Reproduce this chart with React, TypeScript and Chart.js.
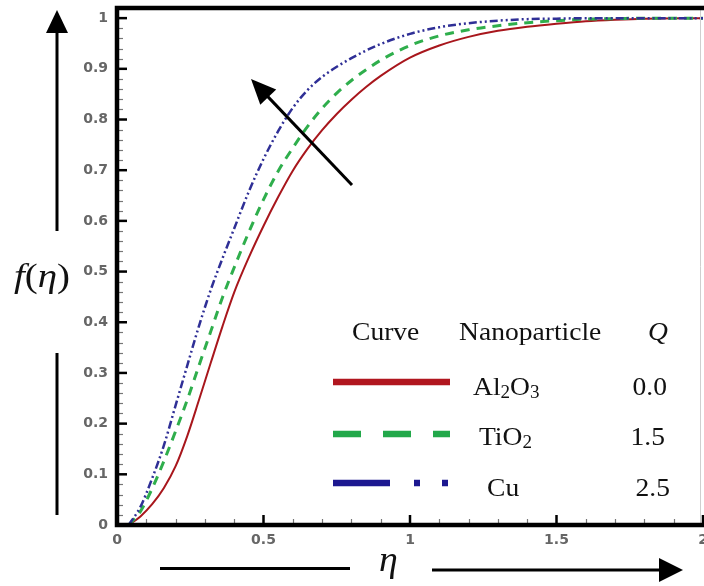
import React, { useEffect, useRef } from 'react';
import { Chart, registerables } from 'chart.js';

Chart.register(...registerables);

// ---- data ----
const eta = [0.04, 0.08, 0.12, 0.16, 0.2, 0.24, 0.28, 0.32, 0.36, 0.4, 0.45, 0.5, 0.55, 0.6, 0.65, 0.7, 0.75, 0.8, 0.85, 0.9, 1.0, 1.1, 1.2, 1.3, 1.4, 1.5, 1.6, 1.7, 1.8, 2.0];
const fAl2O3 = [0, 0.017, 0.041, 0.073, 0.116, 0.176, 0.247, 0.32, 0.392, 0.459, 0.528, 0.59, 0.647, 0.699, 0.742, 0.779, 0.811, 0.839, 0.864, 0.886, 0.922, 0.946, 0.963, 0.975, 0.983, 0.989, 0.994, 0.997, 0.999, 1.0];
const fTiO2 = [0, 0.027, 0.072, 0.126, 0.185, 0.247, 0.315, 0.382, 0.449, 0.508, 0.578, 0.642, 0.698, 0.744, 0.786, 0.822, 0.852, 0.877, 0.898, 0.917, 0.946, 0.965, 0.977, 0.985, 0.991, 0.995, 0.998, 0.999, 1.0, 1.0];
const fCu = [0, 0.036, 0.092, 0.157, 0.236, 0.315, 0.393, 0.464, 0.526, 0.585, 0.658, 0.722, 0.777, 0.823, 0.858, 0.884, 0.904, 0.921, 0.936, 0.949, 0.969, 0.982, 0.99, 0.995, 0.998, 0.999, 1.0, 1.0, 1.0, 1.0];

const xTicks = [0, 0.5, 1, 1.5, 2];
const xTickLabels = ['0', '0.5', '1', '1.5', '2'];
const yTicks = [0, 0.1, 0.2, 0.3, 0.4, 0.5, 0.6, 0.7, 0.8, 0.9, 1];
const yTickLabels = ['0', '0.1', '0.2', '0.3', '0.4', '0.5', '0.6', '0.7', '0.8', '0.9', '1'];

const legendHeader = ['Curve', 'Nanoparticle', 'Q'];
const legendNames = ['Al2O3', 'TiO2', 'Cu'];
const legendQ = ['0.0', '1.5', '2.5'];
const seriesColors = ['#b1161f', '#22a84a', '#1c1890'];
const yTitle = 'f(η)';
const xTitle = 'η';

const SERIF = "'Liberation Serif','Times New Roman',serif";
const TICK_FONT = { family: "'DejaVu Sans', sans-serif", size: 14, weight: 'bold' as const };

type Seg = { t: string; italic?: boolean; sub?: boolean };

function chemSegs(name: string): Seg[] {
  const out: Seg[] = [];
  for (const ch of name) {
    const sub = /[0-9]/.test(ch);
    const last = out[out.length - 1];
    if (last && !!last.sub === sub) last.t += ch;
    else out.push({ t: ch, sub });
  }
  return out;
}

function drawSegs(ctx: CanvasRenderingContext2D, segs: Seg[], x: number, y: number, size: number, align: 'left' | 'right', sx = 1) {
  const fontFor = (s: Seg) => `${s.italic ? 'italic ' : ''}${s.sub ? Math.round(size * 0.7) : size}px ${SERIF}`;
  let total = 0;
  for (const s of segs) {
    ctx.font = fontFor(s);
    total += ctx.measureText(s.t).width;
  }
  ctx.save();
  ctx.translate(x, y);
  ctx.scale(sx, 1);
  ctx.textAlign = 'left';
  ctx.textBaseline = 'alphabetic';
  ctx.fillStyle = '#111';
  let cx = align === 'right' ? -total : 0;
  for (const s of segs) {
    ctx.font = fontFor(s);
    ctx.fillText(s.t, cx, s.sub ? size * 0.12 : 0);
    cx += ctx.measureText(s.t).width;
  }
  ctx.restore();
}

function arrow(ctx: CanvasRenderingContext2D, x0: number, y0: number, x1: number, y1: number, head: number, half: number, w: number) {
  const dx = x1 - x0, dy = y1 - y0;
  const len = Math.hypot(dx, dy);
  const ux = dx / len, uy = dy / len;
  const bx = x1 - ux * head, by = y1 - uy * head;
  ctx.lineWidth = w;
  ctx.beginPath();
  ctx.moveTo(x0, y0);
  ctx.lineTo(bx + ux * 2, by + uy * 2);
  ctx.stroke();
  ctx.beginPath();
  ctx.moveTo(x1, y1);
  ctx.lineTo(bx - uy * half, by + ux * half);
  ctx.lineTo(bx + uy * half, by - ux * half);
  ctx.closePath();
  ctx.fill();
}

const overlay = {
  id: 'overlay',
  afterDraw(chart: any) {
    const ctx: CanvasRenderingContext2D = chart.ctx;
    const xs = chart.scales.x;
    const ys = chart.scales.y;
    const { left, right, top, bottom } = chart.chartArea;
    ctx.save();
    ctx.lineCap = 'butt';

    // minor ticks
    ctx.strokeStyle = '#777';
    ctx.lineWidth = 1.2;
    for (let i = 1; i < 50; i++) {
      if (i % 5 === 0) continue;
      const py = Math.round(ys.getPixelForValue(i * 0.02)) + 0.5;
      ctx.beginPath();
      ctx.moveTo(left, py);
      ctx.lineTo(left + 6, py);
      ctx.stroke();
    }
    for (let i = 1; i < 20; i++) {
      if (i % 5 === 0) continue;
      const px = Math.round(xs.getPixelForValue(i * 0.1)) + 0.5;
      ctx.beginPath();
      ctx.moveTo(px, bottom);
      ctx.lineTo(px, bottom - 6);
      ctx.stroke();
    }
    // major ticks
    ctx.strokeStyle = '#000';
    ctx.lineWidth = 2.5;
    for (const v of yTicks) {
      const py = ys.getPixelForValue(v);
      ctx.beginPath();
      ctx.moveTo(left, py);
      ctx.lineTo(left + 10, py);
      ctx.stroke();
    }
    for (const v of xTicks) {
      const px = xs.getPixelForValue(v);
      ctx.beginPath();
      ctx.moveTo(px, bottom);
      ctx.lineTo(px, bottom - 10);
      ctx.stroke();
    }

    // frame
    ctx.strokeStyle = '#cfcfcf';
    ctx.lineWidth = 1;
    ctx.beginPath();
    ctx.moveTo(right - 2.5, top);
    ctx.lineTo(right - 2.5, bottom);
    ctx.stroke();
    ctx.strokeStyle = '#000';
    ctx.lineWidth = 4.5;
    ctx.beginPath();
    ctx.moveTo(chart.width, top);
    ctx.lineTo(left, top);
    ctx.lineTo(left, bottom);
    ctx.lineTo(chart.width, bottom);
    ctx.stroke();

    // legend table
    const size = 26;
    const sx = 1.06;
    drawSegs(ctx, [{ t: legendHeader[0] }], 352, 340, size, 'left', sx);
    drawSegs(ctx, [{ t: legendHeader[1] }], 459, 340, size, 'left', sx);
    drawSegs(ctx, [{ t: legendHeader[2], italic: true }], 668, 340, size, 'right', sx);
    const rowY = [382, 434, 483];
    const nameX = [473, 479, 487];
    const baseY = [395, 445, 496];
    const qRight = [667, 665, 670];
    const dashes = [[], [28, 22], [57, 24, 6, 22, 6, 200]];
    for (let i = 0; i < 3; i++) {
      ctx.strokeStyle = seriesColors[i];
      ctx.lineWidth = 6.5;
      ctx.setLineDash(dashes[i]);
      ctx.beginPath();
      ctx.moveTo(333, rowY[i]);
      ctx.lineTo(i === 2 ? 448 : 450, rowY[i]);
      ctx.stroke();
      ctx.setLineDash([]);
      drawSegs(ctx, chemSegs(legendNames[i]), nameX[i], baseY[i], size, 'left', sx);
      drawSegs(ctx, [{ t: legendQ[i] }], qRight[i], baseY[i], size, 'right', sx);
    }

    // axis titles
    drawSegs(ctx, [{ t: yTitle[0], italic: true }, { t: yTitle[1] }, { t: yTitle[2], italic: true }, { t: yTitle[3] }], 14, 287, 33, 'left', 1.18);
    drawSegs(ctx, [{ t: xTitle, italic: true }], 379, 571, 36, 'left', 1.05);

    // decorative arrows
    ctx.fillStyle = '#000';
    ctx.strokeStyle = '#000';
    arrow(ctx, 57, 231, 57, 10, 23, 11, 3);
    ctx.lineWidth = 3;
    ctx.beginPath();
    ctx.moveTo(57, 353);
    ctx.lineTo(57, 515);
    ctx.stroke();
    ctx.beginPath();
    ctx.moveTo(160, 568.5);
    ctx.lineTo(350, 568.5);
    ctx.stroke();
    arrow(ctx, 432, 570, 683, 570, 24, 12, 3);
    arrow(ctx, 352, 185, 251, 79, 25, 11, 3);

    ctx.restore();
  },
};

export default function App() {
  const ref = useRef<HTMLCanvasElement | null>(null);
  useEffect(() => {
    if (!ref.current) return;
    const mk = (vals: number[]) => eta.map((x, i) => ({ x, y: vals[i] }));
    const chart = new Chart(ref.current, {
      type: 'line',
      data: {
        datasets: [
          { label: legendNames[2], data: mk(fCu), borderColor: '#2f2f96', borderWidth: 2.5, borderDash: [8, 3, 2, 3, 2, 3], pointRadius: 0, cubicInterpolationMode: 'monotone', fill: false },
          { label: legendNames[1], data: mk(fTiO2), borderColor: '#2fae4c', borderWidth: 3, borderDash: [9, 7], pointRadius: 0, cubicInterpolationMode: 'monotone', fill: false },
          { label: legendNames[0], data: mk(fAl2O3), borderColor: '#a8161c', borderWidth: 2, pointRadius: 0, cubicInterpolationMode: 'monotone', fill: false },
        ],
      },
      options: {
        animation: false,
        responsive: false,
        layout: { padding: { top: 8, right: 1, left: 0, bottom: 0 } },
        plugins: { legend: { display: false }, tooltip: { enabled: false } },
        scales: {
          x: {
            type: 'linear',
            min: 0,
            max: 2,
            afterBuildTicks: (s: any) => { s.ticks = xTicks.map((v) => ({ value: v })); },
            afterFit: (s: any) => { s.height = 61; s.paddingLeft = 0; s.paddingRight = 0; },
            ticks: { callback: (_v: any, i: number) => xTickLabels[i], padding: 7, maxRotation: 0, autoSkip: false, font: TICK_FONT, color: '#666' },
            grid: { display: false, drawTicks: false },
            border: { display: false },
          },
          y: {
            type: 'linear',
            min: 0,
            max: 1.02,
            afterBuildTicks: (s: any) => { s.ticks = yTicks.map((v) => ({ value: v })); },
            afterFit: (s: any) => { s.width = 117; s.paddingTop = 0; s.paddingBottom = 0; },
            ticks: { callback: (_v: any, i: number) => yTickLabels[i], padding: 9, autoSkip: false, font: TICK_FONT, color: '#666' },
            grid: { display: false, drawTicks: false },
            border: { display: false },
          },
        },
      } as any,
      plugins: [overlay],
    });
    return () => chart.destroy();
  }, []);
  return (
    <div style={{ position: 'fixed', left: 0, top: 0, width: 704, height: 586, background: '#fff' }}>
      <canvas ref={ref} width={704} height={586} style={{ display: 'block', width: 704, height: 586 }} />
    </div>
  );
}
